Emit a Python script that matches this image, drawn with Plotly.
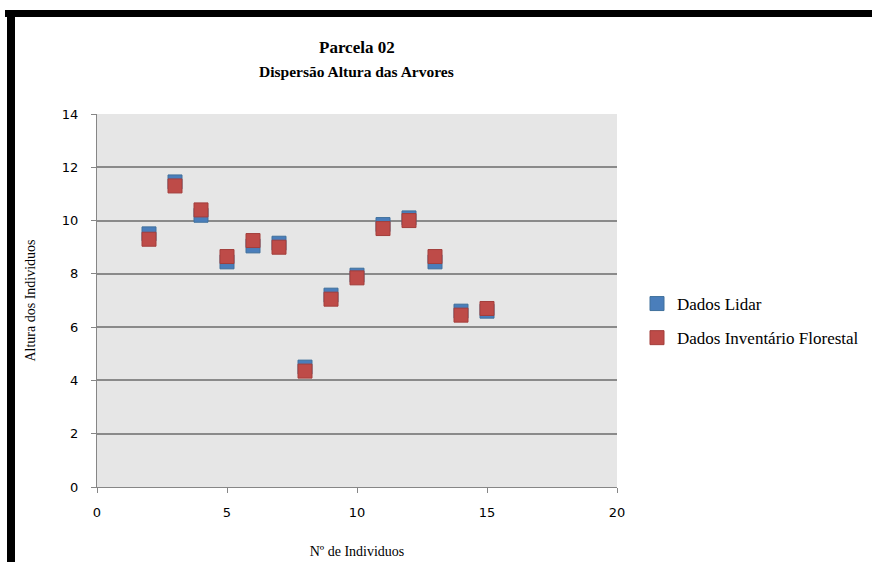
import plotly.graph_objects as go

# Tree index within the plot
individuos = [2, 3, 4, 5, 6, 7, 8, 9, 10, 11, 12, 13, 14, 15]
# Heights estimated from LiDAR
altura_lidar = [9.5, 11.45, 10.2, 8.45, 9.05, 9.15, 4.5, 7.2, 7.95, 9.85, 10.1, 8.45, 6.6, 6.6]
# Heights measured in the forest inventory
altura_inventario = [9.3, 11.3, 10.4, 8.65, 9.25, 9.0, 4.35, 7.05, 7.85, 9.7, 10.0, 8.65, 6.45, 6.7]

x_ticks = [0, 5, 10, 15, 20]
y_ticks = [0, 2, 4, 6, 8, 10, 12, 14]

titulo = ["Parcela 02", "Dispersão Altura das Arvores"]

serif = "Liberation Serif, Times New Roman, serif"
sans = "DejaVu Sans, Verdana, sans-serif"

# plot area in pixels: x 97..617, y 114..487
PX_L, PX_R, PX_T, PX_B = 97, 617, 114, 487
W_PLOT, H_PLOT = PX_R - PX_L, PX_B - PX_T


def py(p):
    """pixel row -> paper y"""
    return (PX_B - p) / H_PLOT


def px(p):
    """pixel column -> paper x"""
    return (p - PX_L) / W_PLOT


fig = go.Figure()
fig.add_trace(go.Scatter(
    x=individuos, y=altura_lidar, mode="markers", name="Dados Lidar",
    legendgroup="lidar",
    marker=dict(symbol="square", size=14, color="#4A7EBB",
                line=dict(width=1, color="#41719C")),
))
fig.add_trace(go.Scatter(
    x=individuos, y=altura_inventario, mode="markers",
    name="Dados Inventário Florestal", legendgroup="inventario",
    marker=dict(symbol="square", size=14, color="#BE4B48",
                line=dict(width=1, color="#A33E3B")),
))

fig.update_layout(
    width=872, height=562,
    margin=dict(l=PX_L, r=872 - PX_R, t=PX_T, b=562 - PX_B, autoexpand=False),
    paper_bgcolor="white",
    plot_bgcolor="#E6E6E6",
    showlegend=True,
    legend=dict(
        x=px(637), xanchor="left", y=py(286), yanchor="top",
        font=dict(family=serif, size=17, color="black"),
        tracegroupgap=9, bgcolor="rgba(0,0,0,0)",
    ),
    xaxis=dict(
        range=[0, 20], tickvals=x_ticks, ticks="outside", ticklen=5,
        tickcolor="#868686", showline=True, linecolor="#868686",
        showgrid=False, zeroline=False, ticklabelstandoff=8,
        tickfont=dict(family=sans, size=13, color="black"),
        title=dict(text="Nº de Individuos", standoff=27,
                   font=dict(family=serif, size=14, color="black")),
    ),
    yaxis=dict(
        range=[0, 14], tickvals=y_ticks, ticks="outside", ticklen=5,
        tickcolor="#868686", showline=True, linecolor="#868686",
        showgrid=True, gridcolor="#8A8A8A", gridwidth=1.6,
        zeroline=False, ticklabelstandoff=10,
        tickfont=dict(family=sans, size=13, color="black"),
        title=dict(text="Altura dos Individuos", standoff=22,
                   font=dict(family=serif, size=14, color="black")),
    ),
    annotations=[
        dict(text="<b>%s</b>" % titulo[0], xref="paper", yref="paper",
             x=px(357), y=py(47), xanchor="center", yanchor="middle",
             showarrow=False, font=dict(family=serif, size=17, color="black")),
        dict(text="<b>%s</b>" % titulo[1], xref="paper", yref="paper",
             x=px(356), y=py(72), xanchor="center", yanchor="middle",
             showarrow=False, font=dict(family=serif, size=15.5, color="black")),
    ],
    shapes=[
        # black frame along the top and left edges
        dict(type="rect", xref="paper", yref="paper",
             x0=px(5), x1=px(872), y0=py(17), y1=py(10),
             fillcolor="black", line=dict(width=0), layer="above"),
        dict(type="rect", xref="paper", yref="paper",
             x0=px(7), x1=px(15), y0=py(562), y1=py(10),
             fillcolor="black", line=dict(width=0), layer="above"),
    ],
)

fig.write_html("out.html")
